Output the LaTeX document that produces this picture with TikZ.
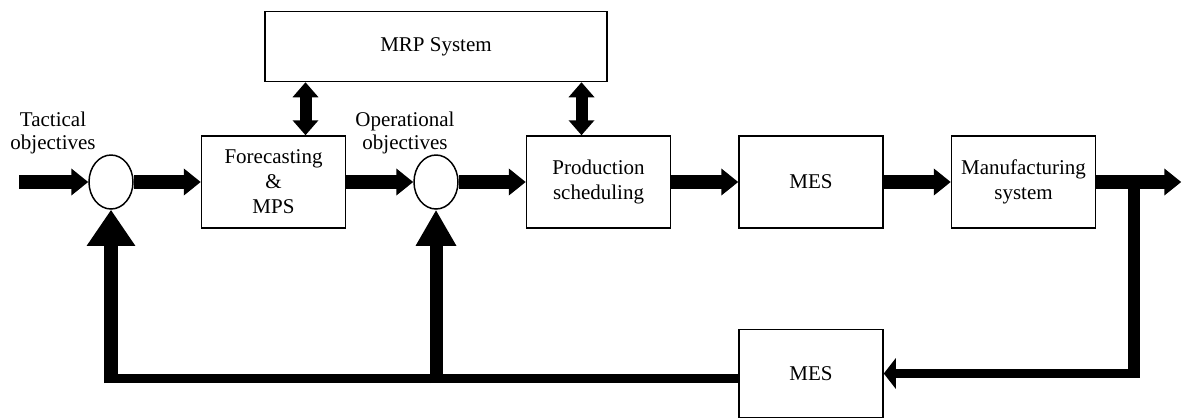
\documentclass[tikz,border=0pt]{standalone}
\usepackage{fontspec}
\setmainfont{Liberation Serif}
\usetikzlibrary{positioning,shapes.geometric,arrows.meta,calc}
\begin{document}
\begin{tikzpicture}[x=0.5pt,y=-0.5pt,
  node distance=33.5pt,
  blk/.style={draw,line width=0.75pt,align=center,minimum width=72pt,minimum height=46pt,inner sep=0pt,font=\fontsize{10.5}{12.5}\selectfont},
  sumj/.style={draw,line width=0.75pt,ellipse,minimum width=22pt,minimum height=27pt,inner sep=0pt},
  lbl/.style={align=center,font=\fontsize{10.5}{11.5}\selectfont},
  flow/.style={line width=7pt,-{Triangle[length=8.5pt,width=13pt]}},
  dbl/.style={line width=6pt,{Triangle[length=7.5pt,width=12.5pt]}-{Triangle[length=7.5pt,width=12.5pt]}},
  fb/.style={line width=4.5pt},
  fbin/.style={line width=4.5pt,-{Triangle[length=6pt,width=15pt]}},
  fbup/.style={line width=7pt,-{Triangle[length=18pt,width=23pt]}}]
\useasboundingbox (0,0) rectangle (1182,419);
\node[sumj] (s1) at (111,182) {};
\node[blk,right=of s1] (fc) {Forecasting\\\&\\MPS};
\node[sumj,right=of fc] (s2) {};
\node[blk,right=of s2] (ps) {Production\\scheduling};
\node[blk,right=of ps] (mes) {MES};
\node[blk,right=of mes] (ms) {Manufacturing\\system};
\coordinate (mid) at ($(fc.north)!0.5!(ps.north)$);
\node[blk,minimum width=171pt,minimum height=35pt,above=26.5pt of mid] (mrp) {MRP System};
\node[blk,minimum height=44pt,below=50pt of mes] (mesfb) {MES};
\node[lbl] (tac) at (53,133) {Tactical\\objectives};
\node[lbl] (opo) at (405,133) {Operational\\objectives};
\coordinate[left=34.5pt of s1] (in);
\coordinate[right=42.5pt of ms] (out);
\coordinate[right=19pt of ms] (tap);
\coordinate (fcx) at ([xshift=16pt]fc.north);
\coordinate (psx) at ([xshift=-8.5pt]ps.north);
\coordinate (fbl) at ([yshift=-2.5pt]mesfb.west);
\draw[flow] (in) -- (s1);
\draw[flow] (s1) -- (fc);
\draw[flow] (fc) -- (s2);
\draw[flow] (s2) -- (ps);
\draw[flow] (ps) -- (mes);
\draw[flow] (mes) -- (ms);
\draw[flow] (ms) -- (out);
\draw[dbl] (mrp.south -| fcx) -- (fcx);
\draw[dbl] (mrp.south -| psx) -- (psx);
\draw[line width=6pt] (tap) -- ([yshift=-2.25pt]tap |- mesfb.east);
\draw[fbin] (tap |- mesfb.east) -- (mesfb.east);
\draw[fb] (fbl) -- (fbl -| s1);
\draw[fbup] ([yshift=-2.25pt]fbl -| s1) -- (s1.south);
\draw[fbup,line width=6.5pt,-{Triangle[length=18pt,width=19pt]}] ([yshift=-2.25pt]fbl -| s2) -- (s2.south);
\end{tikzpicture}
\end{document}
